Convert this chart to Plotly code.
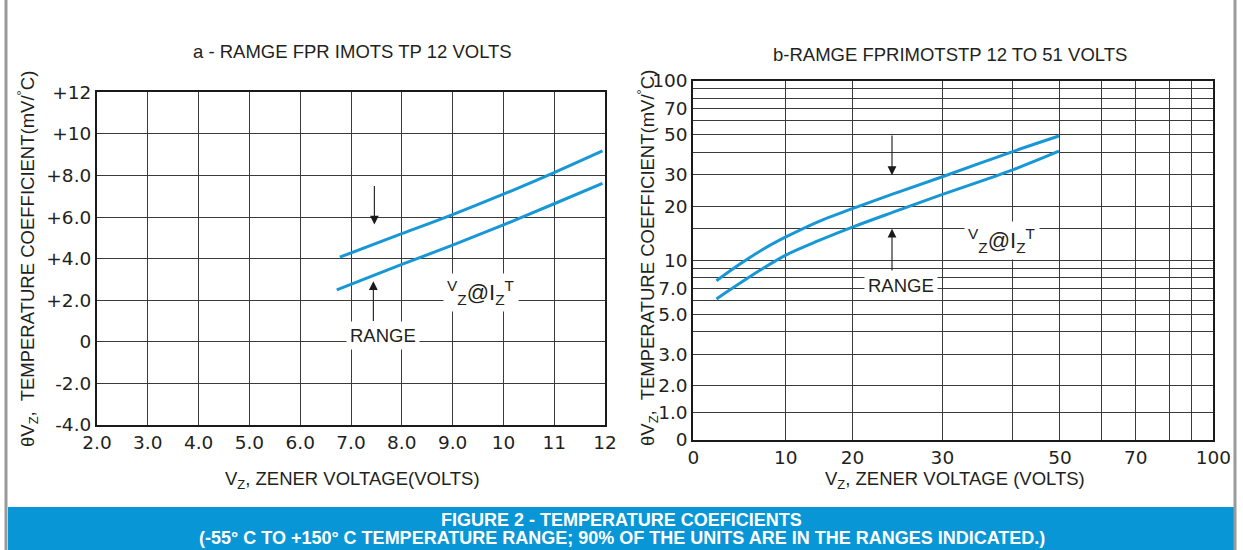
import numpy as np
import plotly.graph_objects as go

# ---------------- data ----------------
# Panel a: range for units up to 12 volts (linear axes)
XA_UP = [6.78, 8.0, 9.0, 10.0, 11.0, 11.95]
YA_UP = [4.07, 5.2, 6.12, 7.1, 8.14, 9.18]
XA_LO = [6.72, 8.0, 9.0, 10.0, 11.0, 11.95]
YA_LO = [2.5, 3.72, 4.65, 5.62, 6.64, 7.62]

XA_TICKS = [2, 3, 4, 5, 6, 7, 8, 9, 10, 11, 12]
XA_TEXT = ["2.0", "3.0", "4.0", "5.0", "6.0", "7.0", "8.0", "9.0", "10", "11", "12"]
YA_TICKS = [-4, -2, 0, 2, 4, 6, 8, 10, 12]
YA_TEXT = ["-4.0", "-2.0", "0", "+2.0", "+4.0", "+6.0", "+8.0", "+10", "+12"]

# Panel b: range for units 12 to 51 volts
XB_UP = [2.5, 5.0, 7.5, 10, 15, 20, 24.6, 30, 40, 49.8]
YB_UP = [7.7, 9.5, 11.5, 13.5, 16.5, 19.4, 23.5, 29.2, 40.2, 49.2]
XB_LO = [2.5, 7.2, 10, 15, 20, 24.6, 29.7, 40, 49.8]
YB_LO = [6.1, 8.8, 10.7, 12.9, 15.3, 18.6, 23.0, 31.8, 40.5]

XB_TICKS = [0, 10, 20, 30, 50, 70, 100]
XB_TEXT = ["0", "10", "20", "30", "50", "70", "100"]
XB_MINOR = [40, 60, 80, 90]
YB_TICKS = [1, 1.43, 2, 3, 5, 7, 10, 20, 30, 50, 70, 100]
YB_TEXT = ["0", "1.0", "2.0", "3.0", "5.0", "7.0", "10", "20", "30", "50", "70", "100"]
YB_MINOR = [4, 6, 8, 9, 15, 40, 60, 80, 90]

# The chart's printed voltage scale on panel b is non-uniform; calibrate it
XB_CAL_V = [0, 10, 20, 30, 40, 50, 60, 70, 80, 90, 100]
XB_CAL_S = [0, 17.8, 30.6, 47.9, 61.3, 70.5, 78.5, 85.1, 91.5, 95.8, 100]


def warp(v):
    return np.interp(v, XB_CAL_V, XB_CAL_S)


W, H = 1243, 550
BLUE = "#1797d6"
INK = "#231f20"
GRID = "#3a3a3a"
TICKFONT = dict(family="DejaVu Sans", size=18.5, color=INK)
TXT = "Liberation Sans, Arial, sans-serif"


def px_x(p):
    return p / W


def px_y(p):
    return 1 - p / H


fig = go.Figure()

for xs, ys, xa, ya in [(XA_UP, YA_UP, "x", "y"), (XA_LO, YA_LO, "x", "y"),
                       (warp(XB_UP), YB_UP, "x2", "y2"), (warp(XB_LO), YB_LO, "x2", "y2")]:
    fig.add_trace(go.Scatter(x=xs, y=ys, mode="lines",
                             line=dict(color=BLUE, width=3, shape="spline", smoothing=1.0),
                             xaxis=xa, yaxis=ya, showlegend=False, hoverinfo="skip"))

axis_common = dict(showline=True, linecolor="#1a1a1a", linewidth=2, mirror=True,
                   showgrid=True, gridcolor=GRID, gridwidth=1, zeroline=False,
                   ticks="", tickfont=TICKFONT, fixedrange=True, automargin=False)

fig.update_layout(
    width=W, height=H,
    margin=dict(l=0, r=0, t=0, b=0, pad=0, autoexpand=False),
    paper_bgcolor="white", plot_bgcolor="white",
    xaxis=dict(domain=[px_x(97), px_x(605)], range=[2, 12], tickmode="array",
               tickvals=XA_TICKS, ticktext=XA_TEXT, anchor="y", **axis_common),
    yaxis=dict(domain=[px_y(425), px_y(92.3)], range=[-4, 12], tickmode="array",
               tickvals=YA_TICKS, ticktext=YA_TEXT, anchor="x", **axis_common),
    xaxis2=dict(domain=[px_x(693.3), px_x(1213.3)], range=[0, 100], tickmode="array",
                tickvals=list(warp(XB_TICKS)), ticktext=XB_TEXT, anchor="y2",
                minor=dict(tickmode="array", tickvals=list(warp(XB_MINOR)), showgrid=True,
                           gridcolor=GRID, gridwidth=1, ticks=""),
                **axis_common),
    yaxis2=dict(domain=[px_y(440), px_y(80.7)], type="log", range=[0, 2], tickmode="array",
                tickvals=YB_TICKS, ticktext=YB_TEXT, anchor="x2", ticklabelstandoff=0,
                minor=dict(tickmode="array", tickvals=YB_MINOR, showgrid=True,
                           gridcolor=GRID, gridwidth=1, ticks=""),
                **axis_common),
)

C = dict(xanchor="center", yanchor="middle")
ann = []
# titles
ann.append(dict(text="a - RAMGE FPR IMOTS TP 12 VOLTS", x=px_x(352), y=px_y(52), xref="paper", yref="paper",
                showarrow=False, font=dict(family=TXT, size=18.5, color=INK), **C))
ann.append(dict(text="b-RAMGE FPRIMOTSTP 12 TO 51 VOLTS", x=px_x(950), y=px_y(55), xref="paper", yref="paper",
                showarrow=False, font=dict(family=TXT, size=18.5, color=INK), **C))
ytitle = "θV<sub>Z</sub>,  TEMPERATURE COEFFICIENT(mV/<sup>°</sup>C)"
ann.append(dict(text=ytitle, x=px_x(27), y=px_y(259), xref="paper", yref="paper", textangle=-90,
                showarrow=False, font=dict(family=TXT, size=18.5, color=INK), **C))
ann.append(dict(text=ytitle, x=px_x(647), y=px_y(258), xref="paper", yref="paper", textangle=-90,
                showarrow=False, font=dict(family=TXT, size=18.5, color=INK), **C))
ann.append(dict(text="V<sub>Z</sub>, ZENER VOLTAGE(VOLTS)", x=px_x(352), y=px_y(480), xref="paper", yref="paper",
                showarrow=False, font=dict(family=TXT, size=18.5, color=INK), **C))
ann.append(dict(text="V<sub>Z</sub>, ZENER VOLTAGE (VOLTS)", x=px_x(955), y=px_y(480), xref="paper", yref="paper",
                showarrow=False, font=dict(family=TXT, size=18.5, color=INK), **C))

# arrows panel a
arrow = dict(showarrow=True, text="", arrowhead=2, arrowsize=1.6, arrowwidth=1.1, arrowcolor="#1a1a1a")
ann.append(dict(x=7.46, y=5.64, ax=7.46, ay=7.57, xref="x", yref="y", axref="x", ayref="y", **arrow))
ann.append(dict(x=7.44, y=2.91, ax=7.44, ay=0.93, xref="x", yref="y", axref="x", ayref="y", **arrow))
# arrows panel b
xb_arrow = float(warp(24.4))
ann.append(dict(x=xb_arrow, y=np.log10(29.8), ax=xb_arrow, ay=np.log10(50.5), xref="x2", yref="y2",
                axref="x2", ayref="y2", **arrow))
ann.append(dict(x=xb_arrow, y=np.log10(15.0), ax=xb_arrow, ay=np.log10(8.6), xref="x2", yref="y2",
                axref="x2", ayref="y2", **arrow))

lbl = dict(showarrow=False, bgcolor="white", borderpad=3, font=dict(family=TXT, size=18.5, color=INK), **C)
vz = "<sup>V</sup><sub>Z</sub>@I<sub>Z</sub><sup>T</sup>"
vzfont = dict(family=TXT, size=22, color=INK)
ann.append(dict(text="RANGE", x=7.63, y=0.29, xref="x", yref="y", **lbl))
ann.append(dict(text=vz, x=9.55, y=2.38, xref="x", yref="y", **{**lbl, "font": vzfont}))
ann.append(dict(text="RANGE", x=float(warp(25.4)), y=np.log10(7.26), xref="x2", yref="y2", **lbl))
ann.append(dict(text=vz, x=float(warp(38.6)), y=np.log10(12.9), xref="x2", yref="y2", **{**lbl, "font": vzfont}))

# banner text
ann.append(dict(text="<b>FIGURE 2 - TEMPERATURE COEFICIENTS</b>", x=0.5, y=px_y(519.5), xref="paper", yref="paper",
                showarrow=False, font=dict(family=TXT, size=18, color="white"), **C))
ann.append(dict(text="<b>(-55° C TO +150° C TEMPERATURE RANGE; 90% OF THE UNITS ARE IN THE RANGES INDICATED.)</b>",
                x=0.5, y=px_y(537.5), xref="paper", yref="paper",
                showarrow=False, font=dict(family=TXT, size=18, color="white"), **C))

fig.update_layout(annotations=ann)

shapes = [
    dict(type="rect", xref="paper", yref="paper", x0=px_x(8), x1=px_x(1235), y0=0, y1=px_y(507),
         fillcolor="#0896d6", line=dict(width=0), layer="below"),
    dict(type="line", xref="paper", yref="paper", x0=px_x(6), x1=px_x(6), y0=0, y1=1,
         line=dict(color="#9a9a9a", width=3)),
    dict(type="line", xref="paper", yref="paper", x0=px_x(1235), x1=px_x(1235), y0=0, y1=1,
         line=dict(color="#9a9a9a", width=3)),
]
fig.update_layout(shapes=shapes)

fig.write_html("out.html", config={"displayModeBar": False},
               post_script="document.body.style.margin='0';document.body.style.overflow='hidden';")
